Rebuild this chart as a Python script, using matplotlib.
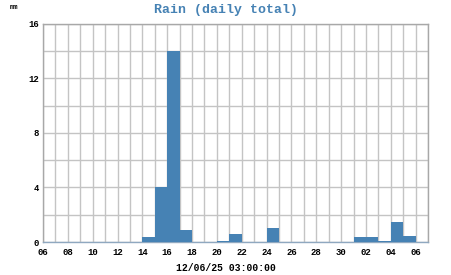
# Rain (daily total) bar chart
import datetime as dt
import matplotlib
matplotlib.use("Agg")
import matplotlib.pyplot as plt
import matplotlib.dates as mdates
from matplotlib.ticker import MultipleLocator

# daily rain values, mm (one per day starting 06 Nov 2025)
start_day = dt.datetime(2025, 11, 6)
rain_mm = [0, 0, 0, 0, 0, 0, 0, 0, 0.34, 4.0, 14.0, 0.87, 0, 0, 0.1, 0.58, 0, 0, 1.04,
           0, 0, 0, 0, 0, 0, 0.34, 0.34, 0.1, 1.5, 0.41, 0]
days = [start_day + dt.timedelta(days=i) for i in range(len(rain_mm))]
y_ticks = [0, 4, 8, 12, 16]
title = "Rain (daily total)"
unit = "mm"
x_label = "12/06/25 03:00:00"

mono = "Liberation Mono"
bar_color = "#4682b4"
grid_color = "#c4c4c4"

fig = plt.figure(figsize=(4.51, 2.75), dpi=100)
ax = fig.add_axes([0.0953, 0.12, 0.854, 0.793])

ax.bar(days, rain_mm, width=1.0, align="edge", color=bar_color, zorder=3)

ax.set_xlim(start_day, start_day + dt.timedelta(days=31))
ax.set_ylim(0, 16)

ax.xaxis.set_major_locator(mdates.DayLocator(interval=2))
ax.xaxis.set_minor_locator(mdates.DayLocator())
ax.xaxis.set_major_formatter(mdates.DateFormatter("%d"))
ax.set_yticks(y_ticks)
ax.yaxis.set_minor_locator(MultipleLocator(2))

ax.grid(True, which="both", color=grid_color, linewidth=1.0, zorder=0)
ax.tick_params(which="both", length=0)
ax.tick_params(axis="x", pad=4.5)
ax.tick_params(axis="y", pad=3)
for lab in ax.get_xticklabels() + ax.get_yticklabels():
    lab.set_fontfamily(mono)
    lab.set_fontweight("bold")
    lab.set_fontsize(6.5)

for s in ax.spines.values():
    s.set_color("#a8a8a8")
    s.set_linewidth(1.0)
ax.spines["bottom"].set_color("#8fa8c0")

fig.text(0.5, 0.965, title, ha="center", va="center", color=bar_color,
         fontfamily=mono, fontweight="bold", fontsize=9.5)
fig.text(0.022, 0.972, unit, ha="left", va="center", fontfamily=mono,
         fontsize=5, fontweight="bold")
fig.text(0.5, 0.025, x_label, ha="center", va="center", fontfamily=mono,
         fontsize=7, fontweight="bold")

fig.savefig("out.png", dpi=100)
